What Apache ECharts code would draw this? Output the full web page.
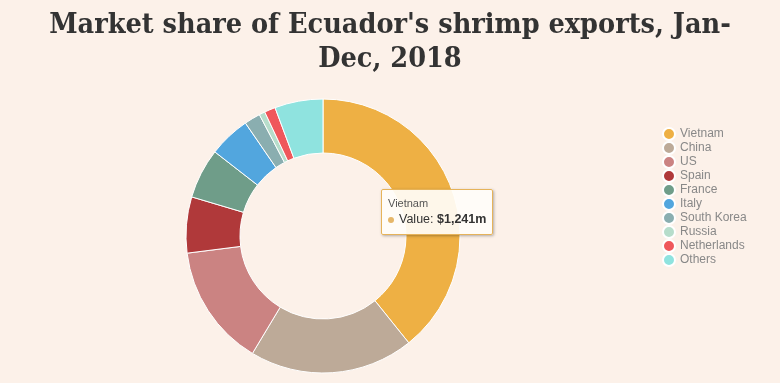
<!DOCTYPE html>
<html>
<head>
<meta charset="utf-8">
<script src="https://cdn.jsdelivr.net/npm/echarts@6/dist/echarts.min.js"></script>
<style>
html,body{margin:0;padding:0;background:#FCF1E9;}
#main{width:780px;height:383px;}
</style>
</head>
<body>
<div id="main"></div>
<script>
const categories = ['Vietnam','China','US','Spain','France','Italy','South Korea','Russia','Netherlands','Others'];
const values = [1241, 613, 455, 209, 187, 155, 60, 22, 41, 180];
const colors = ['#EEB044','#BDAA98','#CB8382','#B0393A','#6F9D89','#52A6DE','#8AAEB0','#B6DDCB','#EF575B','#8FE3DF'];

const chart = echarts.init(document.getElementById('main'));
chart.setOption({
  backgroundColor: '#FCF1E9',
  color: colors,
  title: {
    text: "Market share of Ecuador's shrimp exports, Jan-\nDec, 2018",
    left: 'center',
    top: 4,
    textStyle: {fontFamily: 'DejaVu Serif Condensed', fontWeight: 'bold', fontSize: 28.5, color: '#333', lineHeight: 34}
  },
  legend: {
    orient: 'vertical',
    left: 657,
    top: 122,
    icon: 'circle',
    itemWidth: 12,
    itemHeight: 12,
    itemGap: 0,
    textStyle: {color: '#888', fontSize: 12, fontFamily: 'Arial, Liberation Sans'},
    data: categories
  },
  tooltip: {
    trigger: 'item',
    alwaysShowContent: true,
    triggerOn: 'none',
    position: [381, 189],
    backgroundColor: 'rgba(255,253,248,0.92)',
    borderColor: '#E6B35A',
    borderWidth: 1,
    padding: [6, 6],
    extraCssText: 'box-shadow:1px 1px 3px rgba(0,0,0,0.3);border-radius:2px;',
    formatter: function (p) {
      return '<div style="font-size:11px;color:#555;line-height:15px;font-family:Arial">' + p.name + '</div>' +
        '<div style="font-size:12.5px;color:#333;line-height:17px;font-family:Arial"><span style="display:inline-block;width:6px;height:6px;border-radius:3px;background:#E6B76A;margin-right:5px;vertical-align:middle"></span>Value: <b>$' + p.value.toLocaleString('en-US') + 'm</b></div>';
    }
  },
  series: [{
    type: 'pie',
    center: [323, 236],
    radius: [83, 137],
    startAngle: 90,
    clockwise: true,
    label: {show: false},
    labelLine: {show: false},
    emphasis: {disabled: true},
    itemStyle: {borderColor: '#FFFFFF', borderWidth: 1},
    data: categories.map((c, i) => ({name: c, value: values[i]}))
  }]
});
chart.dispatchAction({type: 'showTip', seriesIndex: 0, dataIndex: 0});
</script>
</body>
</html>
